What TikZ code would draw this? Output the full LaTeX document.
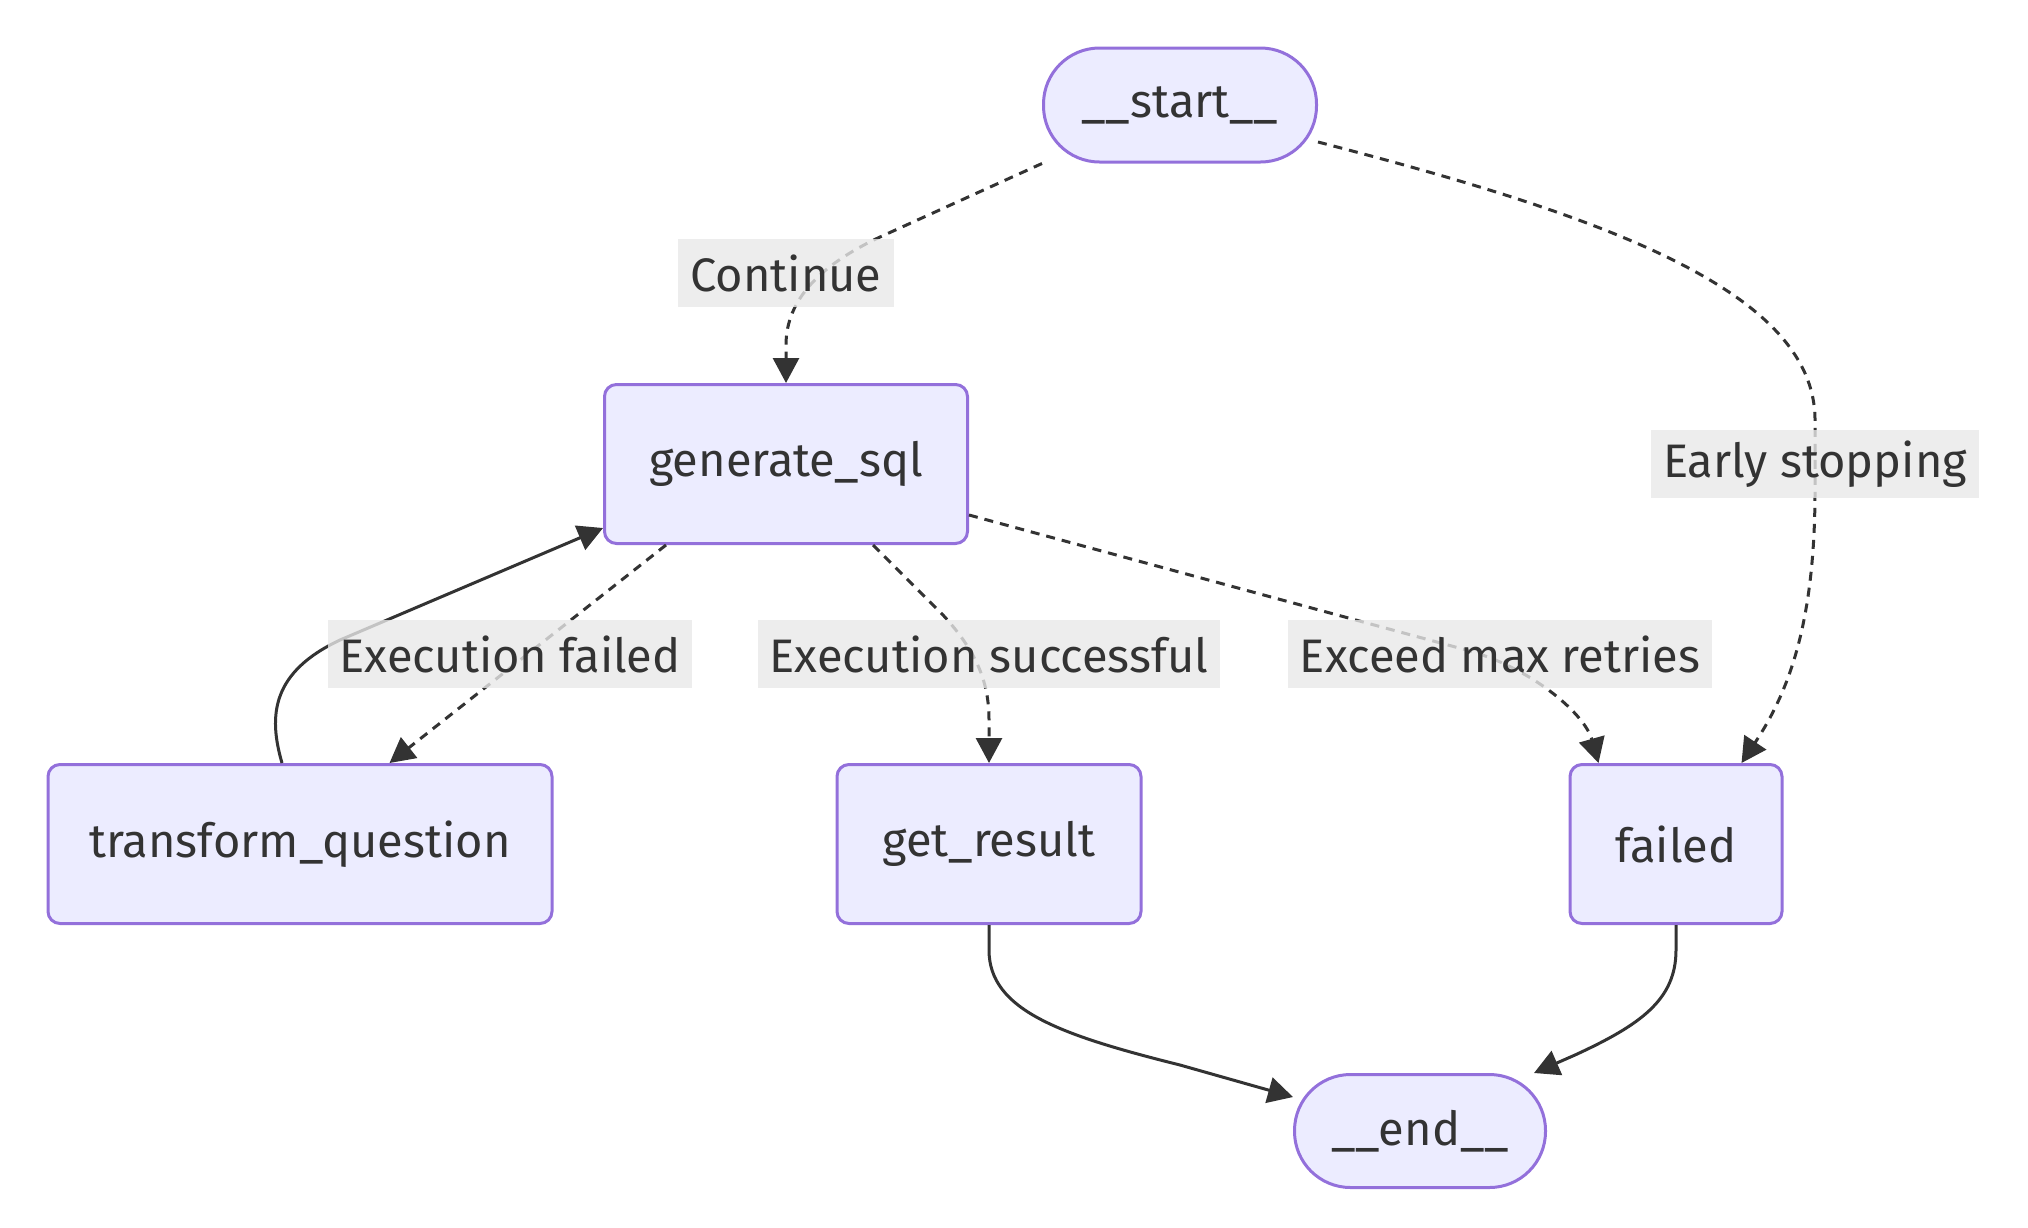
\documentclass[tikz,border=0pt]{standalone}
\usepackage{fontspec}
\setmainfont{Fira Sans}
\usetikzlibrary{arrows.meta}

\definecolor{nodefill}{HTML}{ECECFF}
\definecolor{nodeline}{HTML}{9370DB}
\definecolor{ink}{HTML}{333333}
\definecolor{labelgray}{HTML}{E8E8E8}

\begin{document}
\begin{tikzpicture}[x=0.5pt, y=-0.5pt,
    >={Triangle[length=12.5pt,width=13pt]},
    every node/.style = {
      font = \fontsize{23.5pt}{28pt}\selectfont,
      text = ink
    },
    state/.style = {
      draw = nodeline,
      fill = nodefill,
      line width = 1.5pt,
      rounded corners = 6pt,
      minimum height = 79.5pt
    },
    terminal/.style = {
      state,
      rounded corners = 28pt,
      minimum height = 57pt
    },
    edgelabel/.style = {
      fill = labelgray,
      fill opacity = 0.8,
      text opacity = 1,
      inner xsep = 6pt,
      minimum height = 34pt
    },
    flow/.style = {draw=ink, line width=1.5pt, ->},
    cond/.style = {flow, dash pattern=on 4.5pt off 3.5pt}
  ]
  \useasboundingbox (0,0) rectangle (2028,1227);

  \node[terminal, minimum width=136.5pt] (start) at (1180,105) {\_\_start\_\_};
  \node[state, minimum width=181.5pt] (gen) at (786,464) {generate\_sql};
  \node[state, minimum width=252pt] (transform) at (300,844) {transform\_question};
  \node[state, minimum width=152pt] (get) at (989,844) {get\_result};
  \node[state, minimum width=106pt] (failed) at (1676,844) {failed};
  \node[terminal, minimum width=125.5pt, minimum height=56.5pt] (end) at (1420,1131) {\_\_end\_\_};

  \draw[cond] (start.south west) -- (880,237) .. controls (820,265) and (786,300) .. (786,345) -- (gen.north);
  \draw[cond] ([yshift=-18.5pt]start.east) .. controls (1600,215) and (1815,290) .. (1815,420)
    -- (1815,490) .. controls (1815,620) and (1790,690) .. ([xshift=-21pt]failed.north east);

  \draw[cond] ([xshift=31.5pt]gen.south west) -- ([xshift=-82pt]transform.north east);
  \draw[flow] ([xshift=-9pt]transform.north) .. controls (268,715) and (272,672) .. (340,640) -- ([yshift=-32pt]gen.west);
  \draw[cond] ([xshift=43.5pt]gen.south) -- (943,615) .. controls (975,650) and (989,680) .. (989,720) -- (get.north);
  \draw[cond] ([yshift=-25.5pt]gen.east) -- (1470,651) .. controls (1535,670) and (1585,715) .. ([xshift=15pt]failed.north west);

  \draw[flow] (get.south) -- (989,950) .. controls (989,1010) and (1060,1035) .. (1180,1065) -- ([yshift=17pt]end.west);
  \draw[flow] (failed.south) -- (1676,950) .. controls (1676,1000) and (1640,1025) .. (1575,1055) -- ([xshift=-6.5pt]end.north east);

  \node[edgelabel] (lcont) at (786,273) {Continue};
  \node[edgelabel] (learly) at (1815,464) {Early stopping};
  \node[edgelabel] (lfail) at (510,654) {Execution failed};
  \node[edgelabel] (lsucc) at (989,654) {Execution successful};
  \node[edgelabel] (lexceed) at (1500,654) {Exceed max retries};
\end{tikzpicture}
\end{document}
